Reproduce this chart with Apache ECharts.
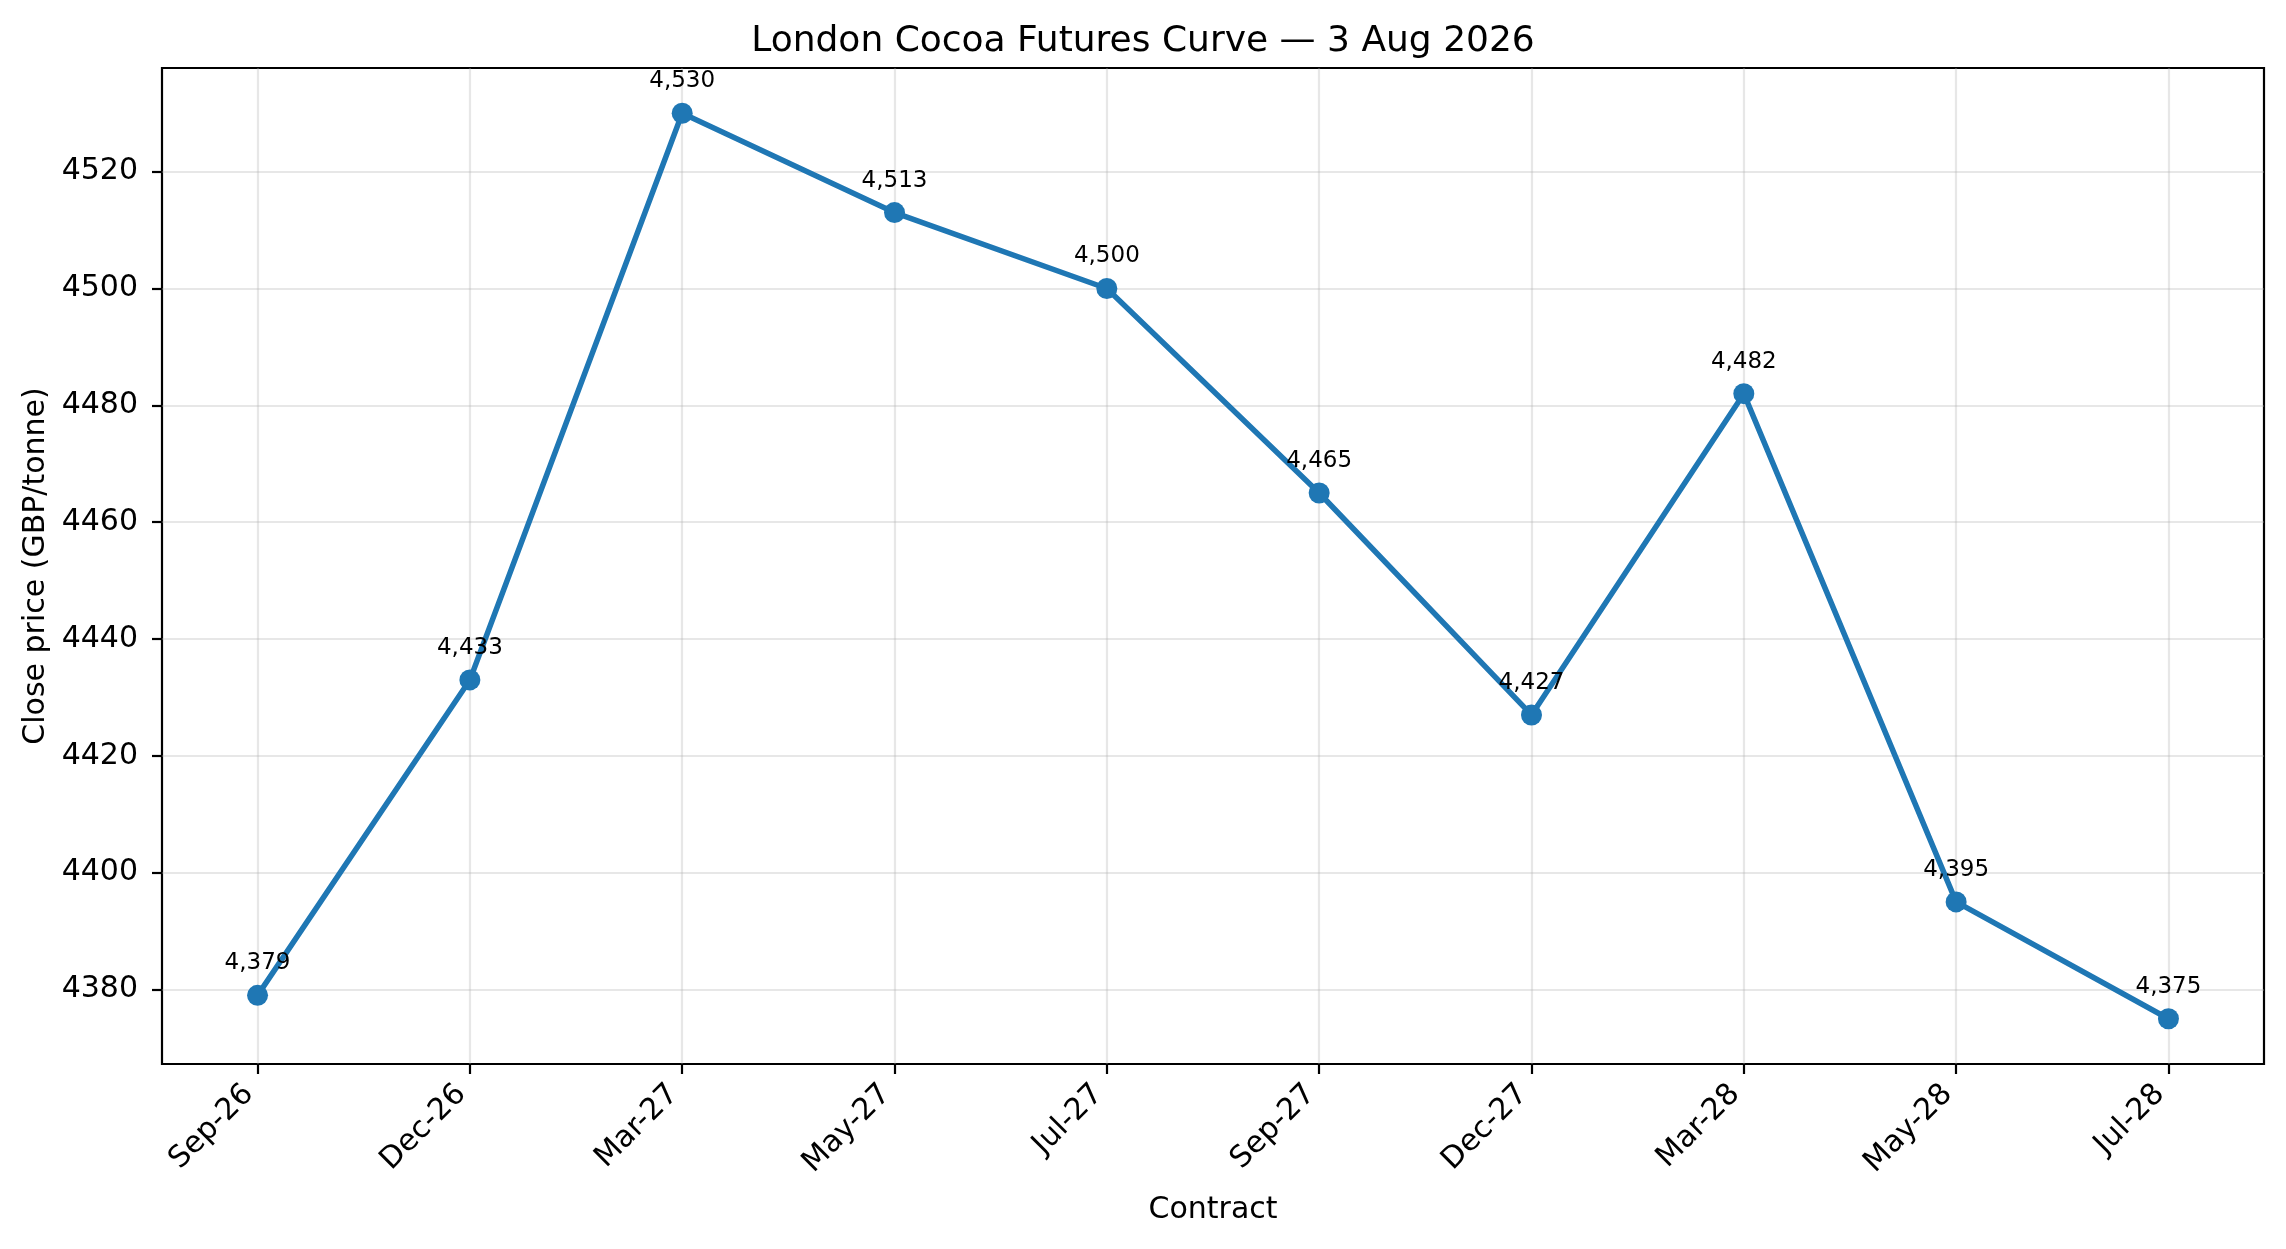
<!DOCTYPE html>
<html>
<head>
<meta charset="utf-8">
<title>London Cocoa Futures Curve</title>
<script src="https://cdn.jsdelivr.net/npm/echarts@6/dist/echarts.min.js"></script>
<style>
  html, body { margin: 0; padding: 0; background: #fff; }
  #chart { width: 2286px; height: 1249px; }
</style>
</head>
<body>
<div id="chart"></div>
<script>
// contract months on the curve and their close prices (GBP/tonne)
var contracts = ['Sep-26', 'Dec-26', 'Mar-27', 'May-27', 'Jul-27', 'Sep-27', 'Dec-27', 'Mar-28', 'May-28', 'Jul-28']
var closePrices = [4379, 4433, 4530, 4513, 4500, 4465, 4427, 4482, 4395, 4375]
var yTicks = [4380, 4400, 4420, 4440, 4460, 4480, 4500, 4520]

var FONT = 'DejaVu Sans'
var blue = '#1f77b4'

var xTicks = contracts.map(function (c, i) { return i })
var points = closePrices.map(function (v, i) { return [i, v] })

// axis padding like matplotlib: 5% of the data span on each side
var yMin = Math.min.apply(null, closePrices)
var yMax = Math.max.apply(null, closePrices)
var yPad = (yMax - yMin) * 0.05
var xPad = (contracts.length - 1) * 0.05

var chart = echarts.init(document.getElementById('chart'), null, { renderer: 'canvas' })

var option = {
  animation: false,
  backgroundColor: '#ffffff',
  title: {
    text: 'London Cocoa Futures Curve \u2014 3 Aug 2026',
    left: 'center',
    top: 19,
    textStyle: { fontFamily: FONT, fontSize: 36, fontWeight: 'normal', color: '#000' }
  },
  grid: {
    left: 162,
    right: 22,
    top: 68,
    bottom: 185,
    show: true,
    borderColor: '#000',
    borderWidth: 2.2,
    backgroundColor: 'transparent'
  },
  xAxis: {
    type: 'value',
    min: -xPad,
    max: contracts.length - 1 + xPad,
    name: 'Contract',
    nameLocation: 'middle',
    nameGap: 131,
    nameTextStyle: { fontFamily: FONT, fontSize: 30, color: '#000' },
    axisLine: { show: false, onZero: false },
    axisTick: {
      show: true,
      inside: false,
      length: 10,
      customValues: xTicks,
      lineStyle: { color: '#000', width: 2.2 }
    },
    axisLabel: {
      customValues: xTicks,
      rotate: 45,
      margin: 17,
      padding: [0, 12, 0, 0],
      fontFamily: FONT,
      fontSize: 30,
      color: '#000',
      formatter: function (v) { return contracts[Math.round(v)] }
    },
    splitLine: {
      show: true,
      lineStyle: { color: 'rgba(176,176,176,0.3)', width: 2.2 }
    }
  },
  yAxis: {
    type: 'value',
    min: yMin - yPad,
    max: yMax + yPad,
    name: 'Close price (GBP/tonne)',
    nameLocation: 'middle',
    nameGap: 104,
    nameTextStyle: { fontFamily: FONT, fontSize: 30, color: '#000' },
    axisLine: { show: false, onZero: false },
    axisTick: {
      show: true,
      inside: false,
      length: 10,
      customValues: yTicks,
      lineStyle: { color: '#000', width: 2.2 }
    },
    axisLabel: {
      customValues: yTicks,
      margin: 24,
      fontFamily: FONT,
      fontSize: 30,
      color: '#000',
      formatter: function (v) { return String(v) }
    },
    splitLine: {
      show: true,
      lineStyle: { color: 'rgba(176,176,176,0.3)', width: 2.2 }
    }
  },
  series: [{
    type: 'line',
    data: points,
    symbol: 'circle',
    symbolSize: 21,
    lineStyle: { color: blue, width: 5.5 },
    itemStyle: { color: blue },
    label: {
      show: true,
      position: 'top',
      distance: 10,
      fontFamily: FONT,
      fontSize: 23,
      color: '#000',
      formatter: function (p) { return p.value[1].toLocaleString('en-US') }
    },
    z: 3
  }]
}

chart.setOption(option)
</script>
</body>
</html>
